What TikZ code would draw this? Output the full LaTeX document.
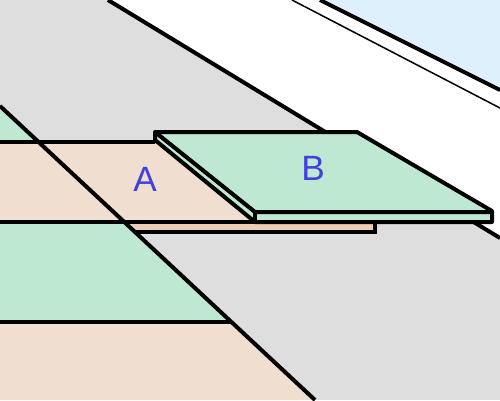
\documentclass[tikz,border=0pt]{standalone}
\usepackage{fontspec}
\setmainfont{Liberation Sans}
\definecolor{roadgray}{HTML}{DEDEDE}
\definecolor{skyblue}{HTML}{DEF0FC}
\definecolor{lanegreen}{HTML}{BFE8D2}
\definecolor{lanebeige}{HTML}{F0DFD0}
\definecolor{stripbeige}{HTML}{ECCDB5}
\definecolor{letterblue}{HTML}{4040E0}

\begin{document}
\begin{tikzpicture}[x=0.02cm,y=-0.02cm,
        edge/.style={line width=0.08cm},
        lettertext/.style={text=letterblue,font=\fontsize{20}{24}\selectfont}]
        \useasboundingbox (0,0) rectangle (500,400);
        \clip (0,0) rectangle (500,400);
        % road and verge
        \fill[roadgray] (0,0) rectangle (500,400);
        \fill[white] (108,0) -- (500,238) -- (500,0) -- cycle;
        \fill[skyblue] (320,0) -- (500,90) -- (500,0) -- cycle;
        \draw[line width=0.03cm] (292,0) -- (500,108);
        \draw[edge] (320,0) -- (500,90);
        \draw[edge] (108,0) -- (500,238);
        % lanes
        \fill[lanegreen] (0,106) -- (38.6,142) -- (0,142) -- cycle;
        \fill[lanebeige] (0,142) -- (155,142) -- (255,222) -- (0,222) -- cycle;
        \fill[lanegreen] (0,222) -- (124.3,222) -- (231.4,322) -- (0,322) -- cycle;
        \fill[lanebeige] (0,322) -- (231.4,322) -- (315,400) -- (0,400) -- cycle;
        \filldraw[stripbeige,draw=black,edge] (124.3,222) -- (375,222) -- (375,232) -- (135,232);
        \draw[edge] (0,142) -- (155,142);
        \draw[edge] (0,222) -- (255,222);
        \draw[edge] (0,322) -- (231.4,322);
        \draw[edge] (0,106) -- (315,400);
        % plate B
        \filldraw[lanegreen,draw=black,edge,line join=round] (155,132) -- (357,132) -- (492,211) -- (492,222) -- (255,222) -- (155,140) -- cycle;
        \draw[edge,line join=round] (155,132) -- (255,212) -- (492,212);
        \draw[edge] (255,212) -- (255,222);
        \node[lettertext] (labelA) at (145,179) {A};
        \node[lettertext] (labelB) at (313,168) {B};
\end{tikzpicture}
\end{document}
